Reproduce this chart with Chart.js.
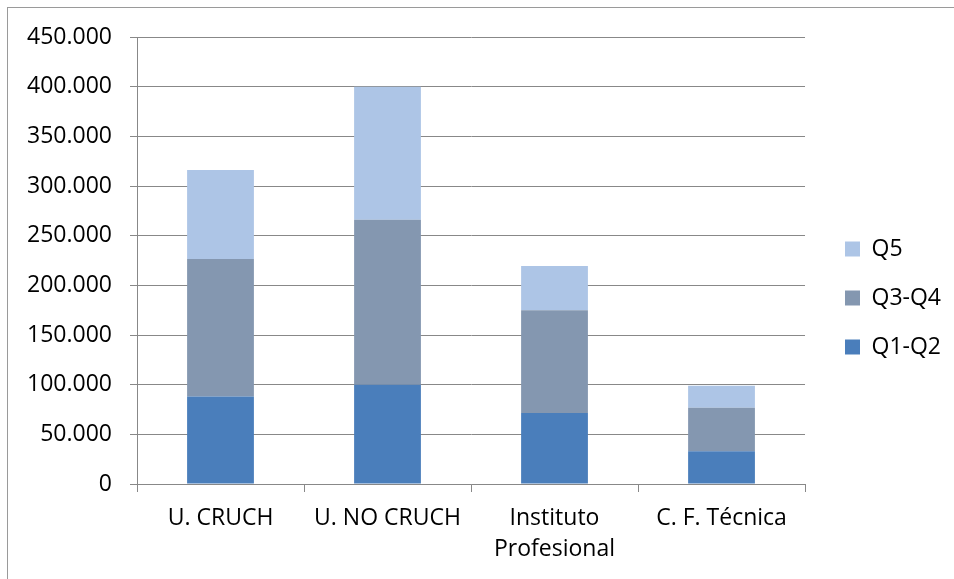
<!DOCTYPE html>
<html>
<head>
<meta charset="utf-8">
<script src="https://cdn.jsdelivr.net/npm/chart.js@4.4.1/dist/chart.umd.min.js"></script>
<style>
  html, body { margin: 0; padding: 0; background: #fff; overflow: hidden; }
  #wrap { position: relative; width: 954px; height: 579px; }
  #frame { position: absolute; left: 7px; top: 7px; width: 1000px; height: 1000px; border-left: 1px solid #9a9a9a; border-top: 1px solid #9a9a9a; }
  canvas { position: absolute; left: 0; top: 0; }
</style>
</head>
<body>
<div id="wrap">
  <div id="frame"></div>
  <canvas id="c" width="954" height="579"></canvas>
</div>
<script>
const categories = ['U. CRUCH', 'U. NO CRUCH', ['Instituto', 'Profesional'], 'C. F. Técnica'];
const seriesNames = ['Q1-Q2', 'Q3-Q4', 'Q5'];
const q1q2 = [88000, 100000, 71500, 33000];
const q3q4 = [138500, 166000, 103500, 43800];
const q5 = [89500, 134000, 44500, 22000];
const yMin = 0, yMax = 450000, yStep = 50000;

const FONT = 'Open Sans';
const FS = 23;
function fmt(v) {
  return String(Math.round(v)).replace(/\B(?=(\d{3})+(?!\d))/g, '.');
}

new Chart(document.getElementById('c'), {
  type: 'bar',
  data: {
    labels: categories,
    datasets: [
      { label: seriesNames[0], data: q1q2, backgroundColor: '#4a7ebb' },
      { label: seriesNames[1], data: q3q4, backgroundColor: '#8497b0' },
      { label: seriesNames[2], data: q5, backgroundColor: '#adc5e6' }
    ]
  },
  options: {
    responsive: false,
    animation: false,
    devicePixelRatio: 1,
    layout: { padding: { left: 7, top: 37, right: 3, bottom: 0 } },
    datasets: { bar: { barPercentage: 0.8, categoryPercentage: 0.5, borderWidth: 0 } },
    plugins: {
      tooltip: { enabled: false },
      legend: {
        position: 'right',
        fullSize: false,
        reverse: true,
        title: { display: true, text: ' ', padding: 0, font: { size: 12, lineHeight: '75px' } },
        labels: {
          boxWidth: 15, boxHeight: 15, padding: 26,
          color: '#000',
          font: { family: FONT, size: FS }
        }
      }
    },
    scales: {
      x: {
        stacked: true,
        afterFit: s => { s.height = 95; },
        grid: { display: true, drawOnChartArea: false, drawTicks: true, tickLength: 8, color: '#888', offset: true },
        border: { display: true, color: '#888' },
        ticks: { color: '#000', padding: 11, maxRotation: 0, autoSkip: false, font: { family: FONT, size: FS, lineHeight: 1.35 } }
      },
      y: {
        stacked: true,
        min: yMin, max: yMax,
        afterFit: s => { s.width = 130; },
        grid: { color: '#888', lineWidth: 1, tickLength: 7 },
        border: { display: true, color: '#888' },
        ticks: { stepSize: yStep, color: '#000', padding: 18, callback: v => fmt(v), font: { family: FONT, size: FS } }
      },
      gap: {
        position: 'right',
        display: true,
        afterFit: s => { s.width = 14; },
        grid: { display: false, drawTicks: false },
        border: { display: false },
        ticks: { display: false }
      }
    }
  }
});
</script>
</body>
</html>
